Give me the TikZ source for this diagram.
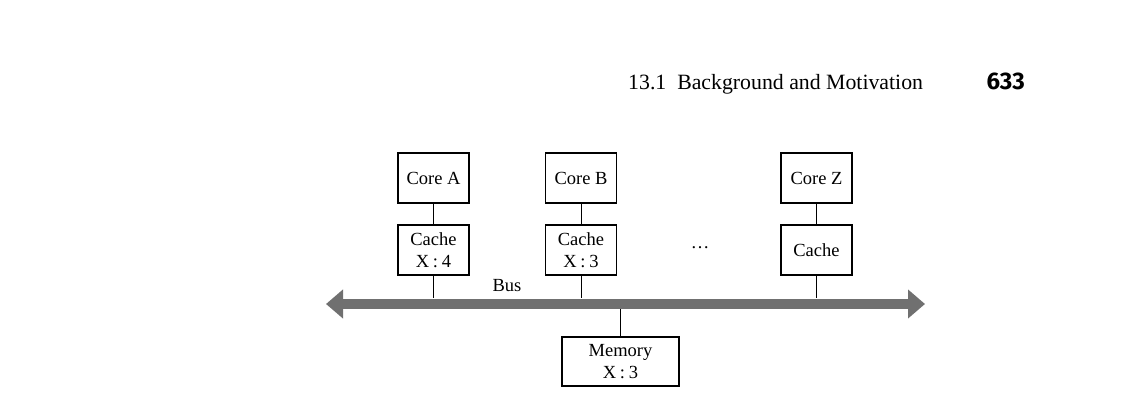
\documentclass[tikz,border=0pt]{standalone}
\usepackage{fontspec}
\setmainfont{Liberation Serif}
\newfontfamily\foliofont{Fira Sans}
\usetikzlibrary{positioning,arrows.meta}
\definecolor{busgray}{RGB}{112,112,112}
\newcommand{\pairsep}{\hspace{0.2em}:\hspace{0.2em}}
\tikzset{
  unit/.style={draw,line width=1.3pt,minimum width=71pt,minimum height=50pt,
    align=center,inner sep=2pt,font=\fontsize{18.5}{22.5}\selectfont},
  wire/.style={line width=0.9pt},
  bus/.style={draw=busgray,line width=10pt,
    {Triangle[length=17pt,width=28pt]}-{Triangle[length=17pt,width=28pt]}},
}
\begin{document}
\begin{tikzpicture}[x=1pt,y=-1pt,node distance=72pt]
    \useasboundingbox (0,0) rectangle (1128,401);
    % running head
    \node (head) [anchor=base west,inner sep=0pt,font=\fontsize{21.8}{26}\selectfont]
      at (628,90) {13.1\enskip Background and Motivation};
    \node (folio) [anchor=base east,inner sep=0pt,font=\foliofont\bfseries\fontsize{24}{28}\selectfont]
      at (1025,90) {633};
    % cores and their caches
    \node[unit] (coreA) at (433.5,178) {Core A};
    \node[unit] (coreB) at (581,178) {Core B};
    \node[unit] (coreZ) at (816.5,178) {Core Z};
    \node[unit] (cacheA) [below of=coreA] {Cache\\X\pairsep 4};
    \node[unit] (cacheB) [below of=coreB] {Cache\\X\pairsep 3};
    \node[unit] (cacheZ) [below of=coreZ] {Cache};
    \node (dots) [inner sep=0pt,font=\fontsize{18.5}{22}\selectfont] at (700,248) {\textellipsis};
    % bus and memory
    \coordinate (busL) at (326,304);
    \coordinate (busR) at (925,304);
    \coordinate (busT) at (0,298);
    \coordinate (busB) at (0,309);
    \node[unit,minimum width=117pt,minimum height=49pt] (mem) at (620.5,361.5) {Memory\\X\pairsep 3};
    \node (buslabel) [font=\fontsize{18.5}{22}\selectfont] at (507,286) {Bus};
    \path[bus] (busL) -- (busR);
    \draw[wire] (coreA) -- (cacheA);
    \draw[wire] (coreB) -- (cacheB);
    \draw[wire] (coreZ) -- (cacheZ);
    \draw[wire] (cacheA.south) -- (cacheA.south |- busT);
    \draw[wire] (cacheB.south) -- (cacheB.south |- busT);
    \draw[wire] (cacheZ.south) -- (cacheZ.south |- busT);
    \draw[wire] (mem.north) -- (mem.north |- busB);
\end{tikzpicture}
\end{document}
